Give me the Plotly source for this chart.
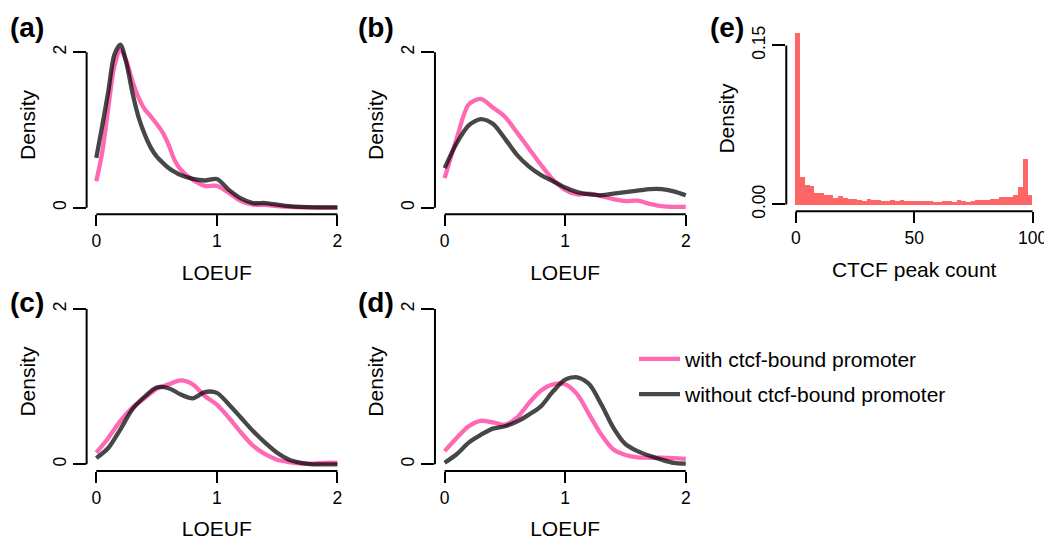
import plotly.graph_objects as go

# ---------------- data ----------------
loeuf_a = [0, 0.05, 0.1, 0.15, 0.2, 0.25, 0.3, 0.35, 0.4, 0.45, 0.5, 0.55, 0.6, 0.65, 0.7,
           0.8, 0.9, 1.0, 1.1, 1.2, 1.3, 1.4, 1.5, 1.6, 1.7, 1.8, 1.9, 2.0]
with_a = [0.34, 0.72, 1.29, 1.82, 2.03, 1.89, 1.63, 1.42, 1.27, 1.18, 1.08, 0.97, 0.81, 0.61, 0.49,
          0.36, 0.28, 0.28, 0.19, 0.085, 0.04, 0.035, 0.02, 0.01, 0.005, 0.003, 0.002, 0.002]
without_a = [0.64, 1.06, 1.50, 1.97, 2.10, 1.86, 1.48, 1.17, 0.95, 0.78, 0.66, 0.58, 0.51, 0.46, 0.42,
             0.37, 0.35, 0.37, 0.23, 0.12, 0.06, 0.06, 0.04, 0.02, 0.01, 0.005, 0.003, 0.003]

loeuf_grid = [0, 0.1, 0.2, 0.3, 0.4, 0.5, 0.6, 0.7, 0.8, 0.9, 1.0,
              1.1, 1.2, 1.3, 1.4, 1.5, 1.6, 1.7, 1.8, 1.9, 2.0]
with_b = [0.38, 0.89, 1.33, 1.40, 1.29, 1.17, 0.97, 0.76, 0.55, 0.36, 0.23,
          0.17, 0.18, 0.15, 0.11, 0.085, 0.09, 0.05, 0.02, 0.01, 0.01]
without_b = [0.51, 0.83, 1.06, 1.14, 1.08, 0.89, 0.68, 0.53, 0.42, 0.34, 0.26,
             0.20, 0.17, 0.16, 0.18, 0.20, 0.22, 0.24, 0.24, 0.21, 0.16]
with_c = [0.15, 0.34, 0.56, 0.73, 0.85, 0.97, 1.03, 1.08, 1.03, 0.88, 0.77,
          0.60, 0.41, 0.24, 0.13, 0.06, 0.03, 0.01, 0.01, 0.02, 0.02]
without_c = [0.08, 0.21, 0.45, 0.71, 0.87, 0.99, 0.98, 0.90, 0.85, 0.93, 0.92,
             0.77, 0.60, 0.43, 0.28, 0.15, 0.06, 0.02, 0.0, 0.0, 0.0]
with_d = [0.17, 0.34, 0.49, 0.56, 0.54, 0.51, 0.60, 0.79, 0.95, 1.03, 1.03,
          0.90, 0.64, 0.38, 0.19, 0.12, 0.09, 0.085, 0.085, 0.08, 0.07]
without_d = [0.02, 0.13, 0.28, 0.38, 0.46, 0.49, 0.55, 0.64, 0.75, 0.94, 1.09,
             1.12, 1.03, 0.77, 0.47, 0.26, 0.17, 0.11, 0.06, 0.02, 0.01]

ctcf_bin_left = list(range(0, 100, 2))
ctcf_density = [0.162, 0.0258, 0.0186, 0.0174, 0.0112, 0.0106, 0.0093, 0.0087, 0.0065, 0.0081,
                0.0062, 0.0056, 0.0056, 0.0043, 0.0037, 0.0053, 0.0047, 0.0047, 0.0037, 0.0037,
                0.0043, 0.0037, 0.0043, 0.0037, 0.0037,
                0.0037, 0.0037, 0.0037, 0.0031, 0.0028, 0.0028, 0.0034, 0.0034, 0.0028, 0.0043,
                0.0037, 0.0028, 0.0034, 0.0043, 0.0043, 0.0040, 0.0053, 0.0053, 0.0068, 0.0068,
                0.0068, 0.0087, 0.0171, 0.0435, 0.0090]

loeuf_ticks = [0, 1, 2]
density_ticks = [0, 2]
ctcf_ticks = [0, 50, 100]
ctcf_density_ticks = [0, 0.15]
ctcf_density_ticklabels = ["0.00", "0.15"]

series_names = ["with ctcf-bound promoter", "without ctcf-bound promoter"]
panel_labels = ["(a)", "(b)", "(c)", "(d)", "(e)"]

# ---------------- styling ----------------
W, H = 1052, 542
OFF = 8  # default page body margin
FONT = "Liberation Sans, Arial, Helvetica, sans-serif"
PINK = "rgb(255,105,180)"
DARK = "rgba(0,0,0,0.72)"
BAR = "rgb(255,102,102)"
TICKSIZE = 17.5
TITLESIZE = 21

def fx(p):
    return (p - OFF) / W

def fy(p):
    return 1 - (p - OFF) / H

fig = go.Figure()

density_panels = [
    (loeuf_a, with_a, without_a, (87, 348.7), (36, 217)),
    (loeuf_grid, with_b, without_b, (437, 698.7), (36, 217)),
    (loeuf_grid, with_c, without_c, (87, 348.7), (296, 477)),
    (loeuf_grid, with_d, without_d, (437, 698.7), (296, 477)),
]

shapes = []
layout_axes = {}
for i, (xs, yw, yo, xd, yd) in enumerate(density_panels):
    n = i + 1
    xa = "x" if n == 1 else f"x{n}"
    ya = "y" if n == 1 else f"y{n}"
    for ys, col, nm in [(yw, PINK, series_names[0]), (yo, DARK, series_names[1])]:
        fig.add_trace(go.Scatter(
            x=xs, y=ys, mode="lines", name=nm,
            line=dict(color=col, width=4.3, shape="spline", smoothing=0.8),
            xaxis=xa, yaxis=ya, showlegend=(n == 1), legendgroup=nm,
            hoverinfo="skip"))
    layout_axes[f"xaxis{n if n > 1 else ''}"] = dict(
        domain=[fx(xd[0]), fx(xd[1])], range=[-0.08, 2.08], anchor=ya,
        tickvals=loeuf_ticks, ticks="outside", ticklen=11, tickwidth=2, tickcolor="black",
        showline=False, showgrid=False, zeroline=False, ticklabeloverflow="allow",
        tickfont=dict(size=TICKSIZE, color="black", family=FONT),
        title=dict(text="LOEUF", font=dict(size=TITLESIZE, color="black", family=FONT), standoff=14))
    layout_axes[f"yaxis{n if n > 1 else ''}"] = dict(
        domain=[fy(yd[1]), fy(yd[0])], range=[-0.085, 2.215], anchor=xa,
        tickvals=density_ticks, ticks="outside", ticklen=13, tickwidth=2, tickcolor="black",
        tickangle=-90, showline=False, showgrid=False, zeroline=False,
        tickfont=dict(size=TICKSIZE, color="black", family=FONT),
        title=dict(text="Density", font=dict(size=TITLESIZE, color="black", family=FONT), standoff=8))
    shapes.append(dict(type="line", xref=xa, yref=f"{ya} domain", x0=0, x1=2, y0=0, y1=0,
                       line=dict(color="black", width=2)))
    shapes.append(dict(type="line", xref=f"{xa} domain", yref=ya, x0=0, x1=0, y0=0, y1=2,
                       line=dict(color="black", width=2)))

# panel (e) histogram (x span slightly compressed so the "100" label stays on the page)
fig.add_trace(go.Bar(
    x=[b + 1 for b in ctcf_bin_left], y=ctcf_density, width=2,
    marker=dict(color=BAR, line=dict(width=0)),
    xaxis="x5", yaxis="y5", showlegend=False, hoverinfo="skip"))
layout_axes["xaxis5"] = dict(
    domain=[fx(790), fx(1047)], range=[-4, 104], anchor="y5",
    tickvals=ctcf_ticks, ticks="outside", ticklen=11, tickwidth=2, tickcolor="black",
    showline=False, showgrid=False, zeroline=False, ticklabeloverflow="allow",
    tickfont=dict(size=TICKSIZE, color="black", family=FONT),
    title=dict(text="CTCF peak count", font=dict(size=TITLESIZE, color="black", family=FONT), standoff=14))
layout_axes["yaxis5"] = dict(
    domain=[fy(214), fy(26)], range=[-0.0065, 0.1685], anchor="x5",
    tickvals=ctcf_density_ticks, ticktext=ctcf_density_ticklabels,
    ticks="outside", ticklen=13, tickwidth=2, tickcolor="black",
    tickangle=-90, showline=False, showgrid=False, zeroline=False,
    tickfont=dict(size=TICKSIZE, color="black", family=FONT),
    title=dict(text="Density", font=dict(size=TITLESIZE, color="black", family=FONT), standoff=8))
shapes.append(dict(type="line", xref="x5", yref="y5 domain", x0=0, x1=100, y0=0, y1=0,
                   line=dict(color="black", width=2)))
shapes.append(dict(type="line", xref="x5 domain", yref="y5", x0=0, x1=0, y0=0, y1=0.15,
                   line=dict(color="black", width=2)))

label_pos = [(27, 28), (378, 28), (27, 306), (378, 306), (730, 28)]
annotations = []
for lab, (px, py) in zip(panel_labels, label_pos):
    annotations.append(dict(text=f"<b>{lab}</b>", x=fx(px), y=fy(py), xref="paper", yref="paper",
                            xanchor="center", yanchor="middle", showarrow=False,
                            font=dict(size=28, color="black", family=FONT)))

fig.update_layout(
    width=W, height=H, margin=dict(l=0, r=0, t=0, b=0),
    paper_bgcolor="white", plot_bgcolor="white",
    font=dict(family=FONT, color="black"),
    bargap=0, shapes=shapes, annotations=annotations,
    legend=dict(x=fx(637), y=fy(343), xanchor="left", yanchor="top",
                font=dict(size=21, color="black", family=FONT),
                bgcolor="rgba(0,0,0,0)", tracegroupgap=5, itemwidth=41),
    **layout_axes)

fig.write_html("out.html")
